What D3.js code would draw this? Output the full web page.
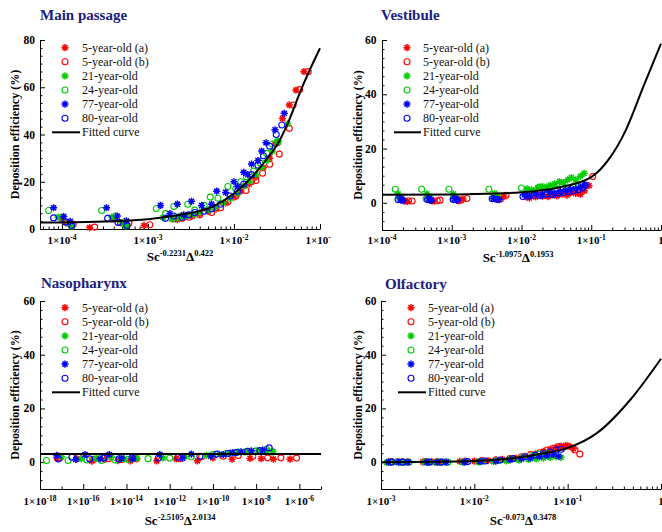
<!DOCTYPE html>
<html><head><meta charset="utf-8">
<script src="https://cdn.jsdelivr.net/npm/d3@7"></script>
<style>
body{margin:0;background:#fff}
svg{display:block}
text{font-family:"Liberation Serif","Times New Roman",serif}
</style>
</head><body>
<svg id="chart" width="662" height="532"></svg>
<script>
// ---------- shared legend / series info ----------
const seriesNames = ["5-year-old (a)", "5-year-old (b)", "21-year-old", "24-year-old", "77-year-old", "80-year-old"];
const seriesColors = ["#ff0000", "#ff0000", "#00cc00", "#00cc00", "#0000ff", "#0000ff"];
const seriesShapes = ["star", "circle", "star", "circle", "star", "circle"];
const curveLabel = "Fitted curve";
const yAxisTitle = "Deposition efficiency (%)";

// ---------- Main passage ----------
const mainTitle = "Main passage";
const mainXTitle = ["Sc", "-0.2231", "Δ", "0.422"];
const mainXTickExps = [-4, -3, -2, -1];
const mainYTicks = [0, 20, 40, 60, 80];
const main5a = [[1.0e-4,4.2],[1.3e-4,1.8],[2.1e-4,0.6],[4.0e-4,4.2],[5.8e-4,1.5],[9.0e-4,1.5],[2.2e-3,4.0],[2.7e-3,5.2],[3.3e-3,5.5],[4.0e-3,6.5],[5.0e-3,7.5],[6.2e-3,8.5],[8.0e-3,11],[1.0e-2,13.5],[1.2e-2,16],[1.5e-2,19],[1.8e-2,22],[2.2e-2,26],[2.6e-2,30],[3.0e-2,36],[3.66e-2,46.8],[4.39e-2,52.5],[5.25e-2,58.8],[6.5e-2,66.6]];
const main5b = [[1.15e-4,2.5],[1.35e-4,2.0],[2.4e-4,0.8],[4.8e-4,2.6],[6.0e-4,2.5],[1.05e-3,1.8],[2.0e-3,4.3],[2.5e-3,4.5],[3.0e-3,5.0],[4.0e-3,6.0],[5.5e-3,7.0],[7.0e-3,9.0],[8.5e-3,11.5],[1.05e-2,14],[1.38e-2,16.3],[1.6e-2,20],[1.8e-2,20.5],[2.15e-2,23.6],[2.6e-2,27.4],[3.36e-2,31.7],[3.2e-2,36.5],[4.4e-2,42.6],[4.87e-2,52.5],[5.8e-2,59],[7.3e-2,66.6]];
const main21 = [[9e-5,5],[1.2e-4,2.5],[1.3e-4,1.5],[3.8e-4,5],[5e-4,2.6],[5.6e-4,1.2],[1.5e-3,4.8],[1.9e-3,4.2],[2.3e-3,4.5],[2.8e-3,5.5],[3.4e-3,6],[4e-3,7],[5e-3,8],[6e-3,9],[7.5e-3,11],[9e-3,13],[1.1e-2,15],[1.3e-2,18],[1.5e-2,20],[1.8e-2,23],[2.1e-2,26],[2.4e-2,29],[2.8e-2,33],[3.3e-2,37],[4.2e-2,44.5]];
const main24 = [[7e-5,7.8],[1e-4,5],[1.3e-4,1.2],[2.9e-4,7.8],[4.2e-4,5.5],[5.5e-4,1.5],[1.25e-3,8.7],[1.6e-3,6.5],[2e-3,9.5],[2.4e-3,5.5],[2.9e-3,10.5],[3.5e-3,8],[4.5e-3,10],[5.3e-3,13.5],[6.5e-3,13],[8.5e-3,18],[1.05e-2,17],[1.2e-2,20],[1.4e-2,22],[1.7e-2,24.5],[2e-2,28],[2.4e-2,32],[2.8e-2,36],[3.2e-2,37]];
const main77 = [[8e-5,9],[1.05e-4,5.3],[1.25e-4,3.2],[3.3e-4,9],[4.4e-4,5.5],[5.6e-4,3.5],[1.4e-3,10],[1.8e-3,6.5],[2.2e-3,10.5],[2.6e-3,6],[3.2e-3,11.7],[4.2e-3,10],[5.5e-3,10.5],[6.3e-3,16],[8e-3,15.5],[1e-2,20],[1.1e-2,18],[1.3e-2,24],[1.45e-2,23],[1.6e-2,27.5],[1.9e-2,29],[2.1e-2,33],[2.36e-2,36.5],[3e-2,42],[3.84e-2,49]];
const main80 = [[8e-5,4.7],[1.1e-4,3],[1.3e-4,1.5],[3.4e-4,4.5],[4.5e-4,2.8],[5.7e-4,1.5],[1.6e-3,4.5],[2e-3,5.5],[2.5e-3,5],[3e-3,6],[3.5e-3,7],[4.5e-3,7.5],[5.5e-3,8.5],[7e-3,10.5],[9e-3,14],[1.1e-2,16],[1.3e-2,19],[1.6e-2,23],[1.9e-2,27],[2.2e-2,31],[2.6e-2,35],[3.1e-2,40],[3.6e-2,44]];
const mainCurve = [[5.56e-5,2.7],[1e-4,2.8],[3.16e-4,3.2],[1e-3,4.1],[2.34e-3,6],[5.6e-3,9.4],[1e-2,15],[1.66e-2,22.5],[2.34e-2,29],[3.39e-2,37.5],[4.37e-2,46],[6.0e-2,58.8],[0.1,76.5]];

// ---------- Vestibule ----------
const vestTitle = "Vestibule";
const vestXTitle = ["Sc", "-1.0975", "Δ", "0.1953"];
const vestXTickExps = [-4, -3, -2, -1, 0];
const vestYTicks = [0, 20, 40, 60];
const vest5a = [[2.1e-4,0.6],[2.3e-4,0.5],[5.2e-4,0.7],[5.6e-4,0.6],[1.25e-3,0.8],[1.45e-3,1.4],[4.6e-3,1.3],[5.6e-3,2.3],[1.3e-2,1.8],[1.6e-2,2.2],[2e-2,2.5],[2.4e-2,2.3],[2.8e-2,3.0],[3.2e-2,2.6],[3.8e-2,3.2],[4.5e-2,2.8],[5e-2,3.8],[6e-2,3.5],[7e-2,3.2],[8e-2,4.5],[9.3e-2,6.3]];
const vest5b = [[2.4e-4,0.8],[2.7e-4,0.7],[6.2e-4,0.8],[6.8e-4,1.0],[1.35e-3,1.0],[1.65e-3,1.6],[5.0e-3,1.5],[6.0e-3,2.8],[1.2e-2,2.2],[1.5e-2,2.6],[1.9e-2,3.0],[2.3e-2,2.8],[2.7e-2,3.4],[3.3e-2,3.0],[4e-2,3.8],[4.8e-2,3.6],[5.5e-2,4.2],[6.5e-2,4.0],[7.5e-2,5.0],[8.5e-2,6.5],[1.05e-1,9.7]];
const vest21 = [[1.7e-4,3.3],[1.9e-4,2.0],[4.4e-4,3.3],[4.9e-4,2.0],[1.05e-3,3.3],[1.15e-3,2.2],[4.1e-3,3.5],[4.5e-3,2.5],[1.2e-2,5.2],[1.4e-2,4.8],[1.7e-2,5.5],[2e-2,6.0],[2.3e-2,5.8],[2.6e-2,6.5],[3e-2,7.0],[3.5e-2,7.8],[4e-2,7.5],[4.6e-2,8.5],[5.2e-2,9.3],[6e-2,8.5],[7e-2,9.8],[7.9e-2,10.9]];
const vest24 = [[1.55e-4,5.0],[1.8e-4,1.5],[3.7e-4,5.0],[4.3e-4,1.5],[9.1e-4,5.0],[1.05e-3,1.5],[3.4e-3,5.0],[4e-3,1.8],[1.0e-2,5.5],[1.3e-2,4.0],[1.8e-2,5.8],[2.2e-2,4.8],[2.6e-2,5.5],[3.2e-2,5.0],[3.8e-2,5.8],[4.5e-2,5.5],[5.5e-2,6.2],[6.5e-2,6.0],[7.5e-2,6.8]];
const vest77 = [[1.85e-4,1.5],[2.0e-4,0.9],[4.7e-4,1.5],[5.1e-4,0.9],[1.1e-3,1.5],[1.2e-3,0.9],[4.0e-3,1.6],[4.8e-3,1.2],[1.1e-2,3.0],[1.3e-2,2.5],[1.6e-2,3.3],[2e-2,3.0],[2.5e-2,3.8],[3e-2,3.5],[3.6e-2,4.2],[4.3e-2,4.5],[5e-2,5.0],[6e-2,5.2],[7e-2,5.8],[8e-2,6.5]];
const vest80 = [[1.7e-4,1.2],[1.95e-4,1.0],[4.5e-4,1.2],[5.0e-4,1.0],[1.05e-3,1.2],[1.2e-3,1.1],[3.8e-3,1.5],[4.4e-3,1.3],[1.05e-2,2.3],[1.25e-2,2.5],[1.5e-2,2.8],[1.9e-2,2.6],[2.3e-2,3.2],[2.8e-2,3.0],[3.4e-2,3.5],[4e-2,3.8],[4.7e-2,4.2],[5.5e-2,4.5],[6.5e-2,4.8],[7.5e-2,5.5],[8.2e-2,6.5]];
const vestCurve = [[1e-4,3.0],[1e-3,3.1],[3.16e-3,3.4],[1e-2,3.9],[3.16e-2,5.5],[0.1,9.5],[0.178,16],[0.316,27],[0.562,43],[1,58.7]];

// ---------- Nasopharynx ----------
const nasoTitle = "Nasopharynx";
const nasoXTitle = ["Sc", "-2.5105", "Δ", "2.0134"];
const nasoXTickExps = [-18, -16, -14, -12, -10, -8, -6];
const nasoYTicks = [0, 20, 40, 60];
const naso5a = [[6e-18,1.6],[5e-17,1.2],[2.5e-16,0.4],[1e-15,1.0],[4e-15,0.6],[1.5e-14,0.5],[3e-14,1.2],[2.5e-13,0.5],[2e-12,1.2],[1.9e-11,0.5],[1e-10,1.6],[7.6e-10,1.1],[5.2e-9,1.4],[1.7e-8,1.3],[6.3e-8,1.1],[3.7e-7,1.1]];
const naso5b = [[8e-18,1.5],[6e-17,1.8],[3e-16,1.0],[1.5e-15,1.3],[6e-15,1.0],[2.5e-14,1.5],[3e-12,1.3],[3e-11,2.0],[3e-10,2.2],[1.5e-9,2.5],[7e-9,2.2],[3.4e-8,1.6],[1.4e-7,1.6],[7.4e-7,1.5]];
const naso21 = [[1e-17,2.0],[8e-17,1.2],[4e-16,1.5],[2e-15,1.8],[8e-15,1.2],[3e-14,1.5],[5e-13,1.5],[5e-12,2.0],[5e-11,2.5],[2e-10,3.0],[6e-10,3.5],[1.5e-9,3.8],[4e-9,4.0],[1.2e-8,4.2],[3e-8,4.5],[6e-8,4.0]];
const naso24 = [[2e-18,0.6],[2e-17,0.6],[1.5e-16,0.8],[7e-16,0.6],[3e-15,0.8],[1.2e-14,1.0],[1e-13,1.3],[1e-12,1.5],[1e-11,2.0],[1e-10,2.8],[4e-10,3.2],[1e-9,3.5],[3e-9,3.8],[1e-8,4.2],[3e-8,4.8],[5e-8,3.8]];
const naso77 = [[6e-18,2.5],[4.5e-17,1.0],[1.2e-16,2.8],[6e-16,1.2],[1.6e-15,2.8],[6e-15,1.5],[2e-14,1.3],[3.5e-13,2.8],[4e-12,1.5],[1e-11,3.0],[8e-11,2.2],[3e-10,2.8],[8e-10,3.5],[2e-9,3.8],[6e-9,4.2],[2e-8,4.5]];
const naso80 = [[7e-18,1.2],[3e-17,1.8],[2e-16,1.2],[9e-16,1.5],[4.5e-15,1.2],[1.8e-14,1.6],[3e-13,1.5],[2.5e-12,1.8],[2.5e-11,2.2],[1.5e-10,3.0],[5e-10,3.2],[1.2e-9,3.6],[4e-9,4.0],[1.5e-8,4.3],[4e-8,5.3]];
const nasoCurve = [[1e-18,3.0],[1e-5,3.0]];

// ---------- Olfactory ----------
const olfTitle = "Olfactory";
const olfXTitle = ["Sc", "-0.073", "Δ", "0.3478"];
const olfXTickExps = [-3, -2, -1, 0];
const olfYTicks = [0, 20, 40, 60];
const olf5a = [[1.2e-3,0.1],[1.5e-3,0.2],[1.9e-3,0.1],[2.8e-3,0.1],[3.5e-3,0.2],[4.5e-3,0.1],[7e-3,0.3],[1e-2,0.4],[1.4e-2,0.6],[2e-2,1.0],[2.8e-2,1.5],[3.5e-2,2.2],[4.5e-2,3.0],[5.5e-2,4.0],[6.5e-2,4.8],[7.5e-2,5.5],[8.5e-2,6.0],[9.5e-2,6.2],[1.05e-1,5.8],[1.15e-1,5.0]];
const olf5b = [[1.3e-3,0.2],[1.7e-3,0.1],[3e-3,0.2],[4e-3,0.1],[8e-3,0.4],[1.2e-2,0.6],[1.7e-2,0.9],[2.4e-2,1.3],[3.2e-2,2.0],[4e-2,2.8],[5e-2,3.5],[6e-2,4.5],[7e-2,5.2],[8e-2,5.8],[9e-2,5.5],[1e-1,6.0],[1.2e-1,4.5],[1.35e-1,3.0]];
const olf21 = [[1.15e-3,-0.1],[1.45e-3,0],[1.8e-3,-0.1],[2.9e-3,0],[3.8e-3,-0.1],[4.8e-3,0],[7.5e-3,0],[1.1e-2,0.1],[1.6e-2,0.2],[2.2e-2,0.5],[3e-2,0.7],[3.8e-2,1.0],[4.6e-2,1.2],[5.5e-2,1.5],[6.5e-2,1.8],[7.5e-2,2.0],[8.5e-2,1.8]];
const olf24 = [[1.25e-3,0],[1.6e-3,0],[2e-3,0],[3.2e-3,0],[4.2e-3,0],[5.2e-3,0],[8e-3,0.1],[1.2e-2,0.3],[1.8e-2,0.6],[2.5e-2,1.2],[3.3e-2,1.8],[4.2e-2,2.5],[5e-2,3.0],[6e-2,3.2]];
const olf77 = [[1.2e-3,0],[1.55e-3,0],[1.95e-3,0],[3.1e-3,0],[4e-3,0],[5e-3,0],[7.8e-3,0],[1.15e-2,0.2],[1.7e-2,0.4],[2.4e-2,0.8],[3.2e-2,1.2],[4e-2,1.5],[5e-2,2.0],[6e-2,2.4],[7e-2,2.8],[8e-2,2.2]];
const olf80 = [[1.3e-3,0],[1.7e-3,0],[3.3e-3,0],[4.4e-3,0],[8.5e-3,0.2],[1.3e-2,0.4],[1.9e-2,0.8],[2.6e-2,1.3],[3.5e-2,2.0],[4.5e-2,2.6],[5.5e-2,3.2],[6.5e-2,3.8],[7.5e-2,4.5],[8.5e-2,4.8]];
const olfCurve = [[1e-3,0.0],[3.16e-3,0.1],[1e-2,0.4],[2.5e-2,1.4],[5.6e-2,3.3],[0.1,5.3],[0.209,11],[0.479,23.6],[1,38.5]];

// ---------- layout ----------
const panels = [
  {title: mainTitle, xTitle: mainXTitle, xExps: mainXTickExps, yTicks: mainYTicks, series: [main5a, main5b, main21, main24, main77, main80], curve: mainCurve,
   clip: [0, 0, 331, 266], xDom: [5.56e-5, 0.1], xR: [40, 320], yDom: [0, 80], yR: [229, 40], minorEvery: 1,
   titlePos: [40, 20], yLabX: 35, yTitleX: 15, xLabY: 244, xTitlePos: [180, 261], leg: {mx: 65, tx: 82, y0: 47.7, lx: [52, 80]}},
  {title: vestTitle, xTitle: vestXTitle, xExps: vestXTickExps, yTicks: vestYTicks, series: [vest5a, vest5b, vest21, vest24, vest77, vest80], curve: vestCurve,
   clip: [331, 0, 331, 266], xDom: [1e-4, 1], xR: [382, 661], yDom: [-10, 60], yR: [230, 40], minorEvery: 1,
   titlePos: [381, 20], yLabX: 376.5, yTitleX: 357.5, xLabY: 244, xTitlePos: [518, 262], leg: {mx: 407, tx: 423, y0: 47.7, lx: [394, 421]}},
  {title: nasoTitle, xTitle: nasoXTitle, xExps: nasoXTickExps, yTicks: nasoYTicks, series: [naso5a, naso5b, naso21, naso24, naso77, naso80], curve: nasoCurve,
   clip: [0, 266, 331, 266], xDom: [1e-18, 1e-5], xR: [40, 321], yDom: [-10, 60], yR: [489, 301], minorEvery: 2,
   titlePos: [41, 288], yLabX: 35, yTitleX: 15, xLabY: 505, xTitlePos: [180, 525], leg: {mx: 65, tx: 82, y0: 307.7, lx: [52, 80]}},
  {title: olfTitle, xTitle: olfXTitle, xExps: olfXTickExps, yTicks: olfYTicks, series: [olf5a, olf5b, olf21, olf24, olf77, olf80], curve: olfCurve,
   clip: [331, 266, 331, 266], xDom: [1e-3, 1], xR: [381, 661], yDom: [-10, 60], yR: [489, 301], minorEvery: 1,
   titlePos: [385, 289], yLabX: 376.5, yTitleX: 358, xLabY: 505, xTitlePos: [523, 525], leg: {mx: 411, tx: 428, y0: 307.7, lx: [398, 426]}}
];

const root = d3.select("#chart");
const R = 3.6, A = R * 0.7071;
const starPath = `M${-R},0H${R}M0,${-R}V${R}M${-A},${-A}L${A},${A}M${-A},${A}L${A},${-A}`;

function drawMarker(sel, shape, color, cx, cy) {
  if (shape === "star") {
    sel.append("path").attr("d", starPath).attr("transform", `translate(${cx},${cy})`)
      .attr("fill", "none").attr("stroke", color).attr("stroke-width", 1.5);
  } else {
    sel.append("circle").attr("cx", cx).attr("cy", cy).attr("r", 3)
      .attr("fill", "none").attr("stroke", color).attr("stroke-width", 1.1);
  }
}

function supText(sel, parts, baseSize, supSize, shift) {
  parts.forEach((t, i) => {
    const ts = sel.append("tspan").text(t);
    if (i % 2 === 1) { ts.attr("font-size", supSize).attr("dy", -shift); }
    else if (i > 0) { ts.attr("font-size", baseSize).attr("dy", shift); }
  });
}

panels.forEach(p => {
  const vp = root.append("svg").attr("x", p.clip[0]).attr("y", p.clip[1])
    .attr("width", p.clip[2]).attr("height", p.clip[3]).attr("overflow", "hidden");
  const g = vp.append("g").attr("transform", `translate(${-p.clip[0]},${-p.clip[1]})`);
  const x = d3.scaleLog().domain(p.xDom).range(p.xR);
  const y = d3.scaleLinear().domain(p.yDom).range(p.yR);
  const yBase = p.yR[0];

  g.append("text").attr("x", p.titlePos[0]).attr("y", p.titlePos[1])
    .attr("font-size", 15).attr("font-weight", "bold").attr("fill", "#1c1c80").text(p.title);

  const lo = Math.floor(Math.log10(p.xDom[0])), hi = Math.ceil(Math.log10(p.xDom[1]));
  const majors = p.xExps.map(e => Math.pow(10, e));
  const minors = [];
  if (p.minorEvery === 1) {
    for (let e = lo; e < hi; e++) for (let k = 2; k <= 9; k++) {
      const v = k * Math.pow(10, e);
      if (v >= p.xDom[0] && v <= p.xDom[1]) minors.push(v);
    }
  } else {
    for (let e = lo; e <= hi; e++) if (!p.xExps.includes(e)) {
      const v = Math.pow(10, e);
      if (v >= p.xDom[0] * 0.999 && v <= p.xDom[1] * 1.001) minors.push(v);
    }
  }
  const xAx = g.append("g").attr("transform", `translate(0,${yBase})`)
    .call(d3.axisBottom(x).tickValues(majors).tickSize(-5).tickSizeOuter(0).tickFormat(""));
  const xAxMin = g.append("g").attr("transform", `translate(0,${yBase})`)
    .call(d3.axisBottom(x).tickValues(minors).tickSize(-2.5).tickSizeOuter(0).tickFormat(""));
  xAxMin.select(".domain").remove();
  [xAx, xAxMin].forEach(a => a.selectAll("line,path").attr("stroke", "#000").attr("stroke-width", 1));

  p.xExps.forEach(e => {
    const t = g.append("text").attr("x", x(Math.pow(10, e))).attr("y", p.xLabY)
      .attr("text-anchor", "middle").attr("font-size", 11).attr("font-weight", "bold").attr("fill", "#000");
    if (e === 0) t.text("1");
    else supText(t, ["1×10", String(e)], 11, 7.5, 4);
  });

  const yAx = g.append("g").attr("transform", `translate(${p.xR[0]},0)`)
    .call(d3.axisLeft(y).tickValues(p.yTicks).tickSize(-5).tickSizeOuter(0).tickFormat(""));
  const yMinVals = [];
  const step = 20 / 6;
  for (let v = p.yDom[0]; v <= p.yDom[1] + 1e-6; v += step) {
    const r = Math.round(v * 1000) / 1000;
    if (!p.yTicks.some(t => Math.abs(t - r) < 1e-3) && r >= p.yDom[0] - 1e-6) yMinVals.push(r);
  }
  const yAxMin = g.append("g").attr("transform", `translate(${p.xR[0]},0)`)
    .call(d3.axisLeft(y).tickValues(yMinVals).tickSize(-2.5).tickSizeOuter(0).tickFormat(""));
  yAxMin.select(".domain").remove();
  [yAx, yAxMin].forEach(a => a.selectAll("line,path").attr("stroke", "#000").attr("stroke-width", 1));
  p.yTicks.forEach(v => {
    g.append("text").attr("x", p.yLabX).attr("y", y(v)).attr("dy", "0.35em")
      .attr("text-anchor", "end").attr("font-size", 11.5).attr("font-weight", "bold").text(v);
  });
  const yMid = (p.yR[0] + p.yR[1]) / 2;
  g.append("text").attr("transform", `translate(${p.yTitleX + 4},${yMid}) rotate(-90)`)
    .attr("text-anchor", "middle").attr("font-size", 12).attr("font-weight", "bold").text(yAxisTitle);

  const xt = g.append("text").attr("x", p.xTitlePos[0]).attr("y", p.xTitlePos[1])
    .attr("text-anchor", "middle").attr("font-size", 13).attr("font-weight", "bold");
  supText(xt, p.xTitle, 13, 8.5, 5);

  p.series.forEach((data, i) => {
    const sg = g.append("g");
    data.forEach(d => drawMarker(sg, seriesShapes[i], seriesColors[i], x(d[0]), y(d[1])));
  });

  g.append("path").datum(p.curve)
    .attr("d", d3.line().x(d => x(d[0])).y(d => y(d[1])).curve(d3.curveMonotoneX))
    .attr("fill", "none").attr("stroke", "#000").attr("stroke-width", 2);

  const L = p.leg, dy = 14.1;
  seriesNames.forEach((n, i) => {
    const cy = L.y0 + i * dy;
    drawMarker(g, seriesShapes[i], seriesColors[i], L.mx, cy);
    g.append("text").attr("x", L.tx).attr("y", cy + 4).attr("font-size", 12).attr("fill", "#111").text(n);
  });
  const cyL = L.y0 + 6 * dy;
  g.append("line").attr("x1", L.lx[0]).attr("x2", L.lx[1]).attr("y1", cyL).attr("y2", cyL)
    .attr("stroke", "#000").attr("stroke-width", 2);
  g.append("text").attr("x", L.tx).attr("y", cyL + 4).attr("font-size", 12).attr("fill", "#111").text(curveLabel);
});
</script>
</body></html>
